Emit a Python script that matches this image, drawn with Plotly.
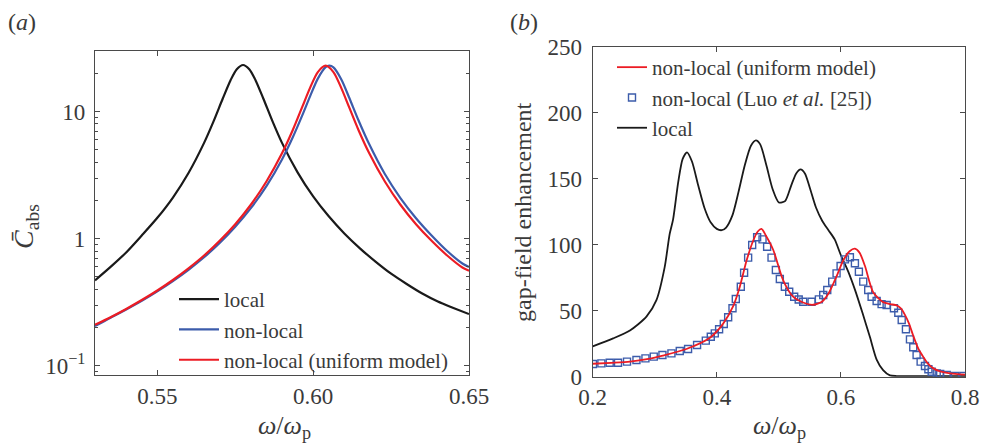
import plotly.graph_objects as go

# ---------------- Panel (a) data ----------------
a_local_x = [0.530, 0.535, 0.540, 0.545, 0.550, 0.555, 0.560, 0.565, 0.568, 0.571, 0.5735, 0.5755,
             0.5775, 0.5795, 0.5815, 0.584, 0.587, 0.590, 0.595, 0.600, 0.605, 0.610, 0.615, 0.620,
             0.625, 0.630, 0.635, 0.640, 0.645, 0.650]
a_local_y = [0.47, 0.60, 0.78, 1.06, 1.46, 2.11, 3.29, 5.68, 8.35, 12.7, 17.7, 21.6,
             23.3, 21.6, 17.7, 12.7, 8.35, 5.68, 3.33, 2.15, 1.50, 1.10, 0.84, 0.66,
             0.53, 0.44, 0.37, 0.32, 0.285, 0.255]

a_uni_x = [0.530, 0.535, 0.540, 0.545, 0.550, 0.555, 0.560, 0.565, 0.570, 0.575, 0.580, 0.585,
           0.590, 0.5935, 0.5965, 0.599, 0.6015, 0.604, 0.6065, 0.609, 0.6115, 0.6145, 0.618,
           0.623, 0.628, 0.633, 0.638, 0.643, 0.648, 0.650]
a_uni_y = [0.210, 0.241, 0.280, 0.329, 0.391, 0.473, 0.584, 0.737, 0.962, 1.30, 1.85, 2.82,
           4.70, 7.21, 10.9, 15.4, 20.5, 23.0, 20.5, 15.4, 10.9, 7.21, 4.70,
           2.82, 1.85, 1.30, 0.962, 0.737, 0.590, 0.560]

a_nl_x = [0.530, 0.535, 0.540, 0.545, 0.550, 0.555, 0.560, 0.565, 0.570, 0.575, 0.580, 0.585,
          0.590, 0.5935, 0.5965, 0.599, 0.6015, 0.604, 0.6052, 0.6065, 0.609, 0.6115, 0.6145,
          0.618, 0.623, 0.628, 0.633, 0.638, 0.643, 0.648, 0.650]
a_nl_y = [0.205, 0.239, 0.277, 0.324, 0.385, 0.464, 0.569, 0.714, 0.924, 1.24, 1.74, 2.59,
          4.21, 6.32, 9.35, 13.2, 18.2, 22.4, 23.0, 22.3, 18.0, 13.0, 8.6,
          5.53, 3.23, 2.09, 1.45, 1.06, 0.80, 0.635, 0.60]

# ---------------- Panel (b) data ----------------
b_local_x = [0.200, 0.233, 0.260, 0.2866, 0.3027, 0.316, 0.324, 0.3295, 0.338, 0.345, 0.352,
             0.360, 0.370, 0.380, 0.390, 0.400, 0.408, 0.415, 0.425, 0.435, 0.445, 0.455,
             0.463, 0.470, 0.480, 0.490, 0.500, 0.510, 0.520, 0.528, 0.535, 0.542, 0.550,
             0.560, 0.570, 0.580, 0.590, 0.600, 0.6115, 0.6226, 0.635, 0.6468, 0.6576,
             0.668, 0.679, 0.690, 0.720, 0.760, 0.800]
b_local_y = [23, 29, 35, 45.5, 58, 83, 108, 119, 148, 165, 170,
             163, 145, 128, 117, 112, 111, 113, 122, 140, 160, 175,
             179, 176, 160, 142, 132, 133, 145, 154, 157, 154, 143,
             128, 118, 111, 104, 92, 80, 66, 48, 30, 13,
             5, 1, 0.5, 0.5, 0.5, 0.5]

b_uni_x = [0.200, 0.230, 0.260, 0.290, 0.313, 0.351, 0.389, 0.410, 0.426, 0.437, 0.448, 0.4586,
           0.466, 0.472, 0.479, 0.491, 0.507, 0.523, 0.540, 0.555, 0.570, 0.580, 0.593,
           0.6037, 0.614, 0.6226, 0.630, 0.6387, 0.652, 0.668, 0.680, 0.690, 0.697, 0.703,
           0.710, 0.7166, 0.725, 0.7328, 0.741, 0.749, 0.760, 0.776, 0.800]
b_uni_y = [9.8, 10.5, 11.4, 13.5, 16.0, 21, 29.5, 40, 53, 68, 88, 103,
           110, 112, 107, 96, 73, 60.6, 56, 54.5, 57, 63, 76,
           88, 95, 97, 94, 84, 64, 56.5, 55, 54, 51.5, 47,
           40, 31, 21, 15, 9.5, 6.3, 4, 2.5, 1.5]

b_luo_x = [0.2005, 0.214, 0.2274, 0.2408, 0.2553, 0.2705, 0.285, 0.2984, 0.3124, 0.3269,
           0.3403, 0.3537, 0.3682, 0.3823, 0.3903, 0.3968, 0.4037, 0.4113, 0.4183, 0.4253,
           0.4306, 0.4387, 0.444, 0.4505, 0.457, 0.465, 0.4737, 0.4811, 0.4882, 0.4952,
           0.5016, 0.5097, 0.5167, 0.5247, 0.532, 0.5392, 0.5527, 0.5645, 0.5715, 0.578,
           0.586, 0.593, 0.5995, 0.6065, 0.6145, 0.6226, 0.629, 0.636, 0.644, 0.6495,
           0.6576, 0.6656, 0.6737, 0.6855, 0.6925, 0.698, 0.7048, 0.7113, 0.7166, 0.722,
           0.7285, 0.7355, 0.741, 0.7463, 0.7544, 0.760, 0.7705, 0.7839, 0.7973]
b_luo_y = [9.6, 10.1, 10.6, 10.6, 11.4, 12.6, 13.9, 15.2, 16.4, 17.7,
           19.5, 21, 24, 27.3, 30.3, 32.8, 35.9, 39.9, 45, 51.8,
           58.9, 68.2, 78.8, 90.2, 99.8, 105.6, 104, 98.5, 90.2, 80.8,
           74, 68.2, 64.4, 60.6, 58.5, 56.8, 56.8, 58.6, 61.9, 65.7,
           72, 78.3, 83.9, 88.9, 90.5, 85.9, 79.5, 72, 65.7, 60.6,
           57.3, 55, 54.3, 51.8, 48.5, 43, 35.9, 28.3, 22.3, 16.4,
           11.4, 8.1, 5.6, 3.8, 2.5, 2, 1.3, 0.5, 0.5]

a_xticks = [0.55, 0.60, 0.65]
a_xticktext = ["0.55", "0.60", "0.65"]
a_yticks = [0.1, 1, 10]
a_yticktext = ["10<sup>−1</sup>", "1", "10"]
a_yminor = [0.09, 0.2, 0.3, 0.4, 0.5, 0.6, 0.7, 0.8, 0.9, 2, 3, 4, 5, 6, 7, 8, 9, 20]
b_xticks = [0.2, 0.4, 0.6, 0.8]
b_xticktext = ["0.2", "0.4", "0.6", "0.8"]
b_yticks = [0, 50, 100, 150, 200, 250]

BLACK = "#1a1a1a"
BLUE = "#3c5cab"
RED = "#ec1c24"
FONT = "Liberation Serif"
TXT = "#3a3a3a"
W, H = 981, 444

fig = go.Figure()

# panel (a)
fig.add_trace(go.Scatter(x=a_local_x, y=a_local_y, mode="lines", name="local",
                         line=dict(color=BLACK, width=2.2, shape="spline", smoothing=0.8),
                         xaxis="x", yaxis="y", legend="legend"))
fig.add_trace(go.Scatter(x=a_nl_x, y=a_nl_y, mode="lines", name="non-local",
                         line=dict(color=BLUE, width=2.2, shape="spline", smoothing=0.8),
                         xaxis="x", yaxis="y", legend="legend"))
fig.add_trace(go.Scatter(x=a_uni_x, y=a_uni_y, mode="lines", name="non-local (uniform model)",
                         line=dict(color=RED, width=2.2, shape="spline", smoothing=0.8),
                         xaxis="x", yaxis="y", legend="legend"))

# panel (b)
fig.add_trace(go.Scatter(x=b_local_x, y=b_local_y, mode="lines", name="local",
                         line=dict(color=BLACK, width=1.8, shape="spline", smoothing=0.7),
                         xaxis="x2", yaxis="y2", legend="legend2", legendrank=3))
fig.add_trace(go.Scatter(x=b_luo_x, y=b_luo_y, mode="markers",
                         name="non-local (Luo <i>et al.</i> [25])",
                         marker=dict(symbol="square-open", size=7, color=BLUE,
                                     line=dict(color=BLUE, width=1.4)),
                         xaxis="x2", yaxis="y2", legend="legend2", legendrank=2))
fig.add_trace(go.Scatter(x=b_uni_x, y=b_uni_y, mode="lines", name="non-local (uniform model)",
                         line=dict(color=RED, width=1.8, shape="spline", smoothing=0.7),
                         xaxis="x2", yaxis="y2", legend="legend2", legendrank=1))

axis_common = dict(showline=True, linecolor="#4a4a4a", linewidth=1.2, mirror="ticks",
                   ticks="inside", ticklen=5, tickcolor="#4a4a4a", showgrid=False,
                   zeroline=False, automargin=False,
                   tickfont=dict(family=FONT, size=23, color=TXT))

fig.update_layout(
    width=W, height=H,
    margin=dict(l=0, r=0, t=0, b=0, autoexpand=False),
    paper_bgcolor="white", plot_bgcolor="white",
    font=dict(family=FONT, color=TXT),
    xaxis=dict(domain=[95 / W, 469 / W], range=[0.53, 0.65], tickvals=a_xticks,
               ticktext=a_xticktext, anchor="y", **axis_common),
    yaxis=dict(domain=[1 - 375 / H, 1 - 50.7 / H], type="log", range=[-1.073, 1.48],
               tickvals=a_yticks, ticktext=a_yticktext, anchor="x", ticklabelstandoff=4,
               minor=dict(ticks="inside", ticklen=3, tickcolor="#4a4a4a", showgrid=False,
                          tickmode="array", tickvals=a_yminor),
               **axis_common),
    xaxis2=dict(domain=[592.7 / W, 965 / W], range=[0.2, 0.8], tickvals=b_xticks,
                ticktext=b_xticktext, anchor="y2", **axis_common),
    yaxis2=dict(domain=[1 - 376.7 / H, 1 - 46.7 / H], range=[0, 250], tickvals=b_yticks,
                anchor="x2", ticklabelstandoff=5, **axis_common),
    legend=dict(x=174 / W, y=1 - 279 / H, xanchor="left", yanchor="top",
                bgcolor="rgba(0,0,0,0)", font=dict(family=FONT, size=21, color=TXT),
                tracegroupgap=0, itemwidth=40),
    legend2=dict(x=612 / W, y=1 - 47 / H, xanchor="left", yanchor="top",
                 bgcolor="rgba(0,0,0,0)", font=dict(family=FONT, size=21, color=TXT),
                 tracegroupgap=0, itemwidth=30),
    showlegend=True,
)


def note(text, x, y, size, anchor="center", angle=0):
    fig.add_annotation(text=text, x=x / W, y=1 - y / H, xref="paper", yref="paper",
                       showarrow=False, xanchor=anchor, yanchor="middle", textangle=angle,
                       font=dict(family=FONT, size=size, color=TXT))


note("(<i>a</i>)", 6, 22, 24, anchor="left")
note("(<i>b</i>)", 508, 22, 24, anchor="left")
note("<i>ω</i>/<i>ω</i><sub>p</sub>", 284, 427, 26)
note("<i>ω</i>/<i>ω</i><sub>p</sub>", 779, 427, 26)
note("<i>C̄</i><sub>abs</sub>", 25, 227, 28, angle=-90)
note("gap-field enhancement", 523, 212, 24, angle=-90)

fig.write_html("out.html", config={"displayModeBar": False},
               post_script="document.body.style.margin='0px';")
